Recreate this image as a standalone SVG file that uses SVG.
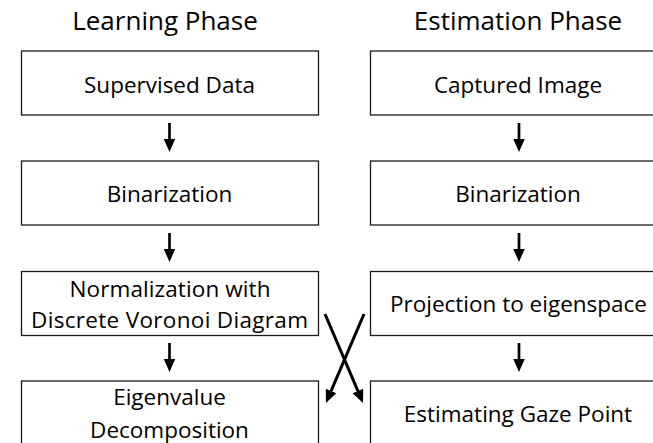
<svg xmlns="http://www.w3.org/2000/svg" width="653" height="443" viewBox="0 0 653 443">
  <style>
    .box { fill: #ffffff; stroke: #1a1a1a; stroke-width: 1.3; }
    .lbl { font-family: "Open Sans", "Liberation Sans", sans-serif; font-size: 22.5px; fill: #000000; text-anchor: middle; }
    .ttl { font-family: "Open Sans", "Liberation Sans", sans-serif; font-size: 26px; fill: #000000; text-anchor: middle; }
    .flow { stroke: #000000; stroke-width: 2.7; fill: none; marker-end: url(#head); }
    .cross { stroke: #000000; stroke-width: 3; fill: none; marker-end: url(#head); }
  </style>
  <defs>
    <marker id="head" markerUnits="userSpaceOnUse" markerWidth="13" markerHeight="12" refX="5" refY="5.75" orient="auto">
      <path d="M0,0 L13,5.75 L0,11.5 z" fill="#000000"/>
    </marker>
  </defs>
  <rect width="653" height="443" fill="#ffffff"/>

  <!-- column headings -->
  <text class="ttl" x="165" y="30">Learning Phase</text>
  <text class="ttl" x="518" y="30">Estimation Phase</text>

  <!-- learning phase column -->
  <g id="supervised-data">
    <rect class="box" x="21.5" y="51" width="297" height="64"/>
    <text class="lbl" x="169.5" y="93">Supervised Data</text>
  </g>
  <g id="binarization-learn">
    <rect class="box" x="21.5" y="161" width="297" height="64"/>
    <text class="lbl" x="169.5" y="202">Binarization</text>
  </g>
  <g id="normalization">
    <rect class="box" x="21.5" y="271.5" width="297" height="64"/>
    <text class="lbl" x="170" y="296.5" textLength="201" lengthAdjust="spacing">Normalization with</text>
    <text class="lbl" x="169.5" y="328" textLength="277" lengthAdjust="spacing">Discrete Voronoi Diagram</text>
  </g>
  <g id="eigenvalue-decomposition">
    <rect class="box" x="21.5" y="381" width="297" height="64"/>
    <text class="lbl" x="169.5" y="405">Eigenvalue</text>
    <text class="lbl" x="169.5" y="437.5">Decomposition</text>
  </g>

  <!-- estimation phase column -->
  <g id="captured-image">
    <rect class="box" x="370.5" y="51" width="296" height="64"/>
    <text class="lbl" x="518" y="93">Captured Image</text>
  </g>
  <g id="binarization-estimate">
    <rect class="box" x="370.5" y="161" width="296" height="64"/>
    <text class="lbl" x="518" y="202">Binarization</text>
  </g>
  <g id="projection">
    <rect class="box" x="370.5" y="271.5" width="296" height="64"/>
    <text class="lbl" x="518.5" y="312">Projection to eigenspace</text>
  </g>
  <g id="gaze-point">
    <rect class="box" x="370.5" y="381" width="296" height="64"/>
    <text class="lbl" x="518" y="422">Estimating Gaze Point</text>
  </g>

  <!-- connectors -->
  <g id="connectors">
    <line class="flow" x1="169.5" y1="123" x2="169.5" y2="144"/>
    <line class="flow" x1="169.5" y1="233" x2="169.5" y2="254"/>
    <line class="flow" x1="169.5" y1="343" x2="169.5" y2="364"/>
    <line class="flow" x1="519" y1="123" x2="519" y2="144"/>
    <line class="flow" x1="519" y1="233" x2="519" y2="254"/>
    <line class="flow" x1="519" y1="343" x2="519" y2="364"/>
    <line class="cross" x1="325" y1="314" x2="359.9" y2="395.6"/>
    <line class="cross" x1="364" y1="314" x2="329.1" y2="395.6"/>
  </g>
</svg>
